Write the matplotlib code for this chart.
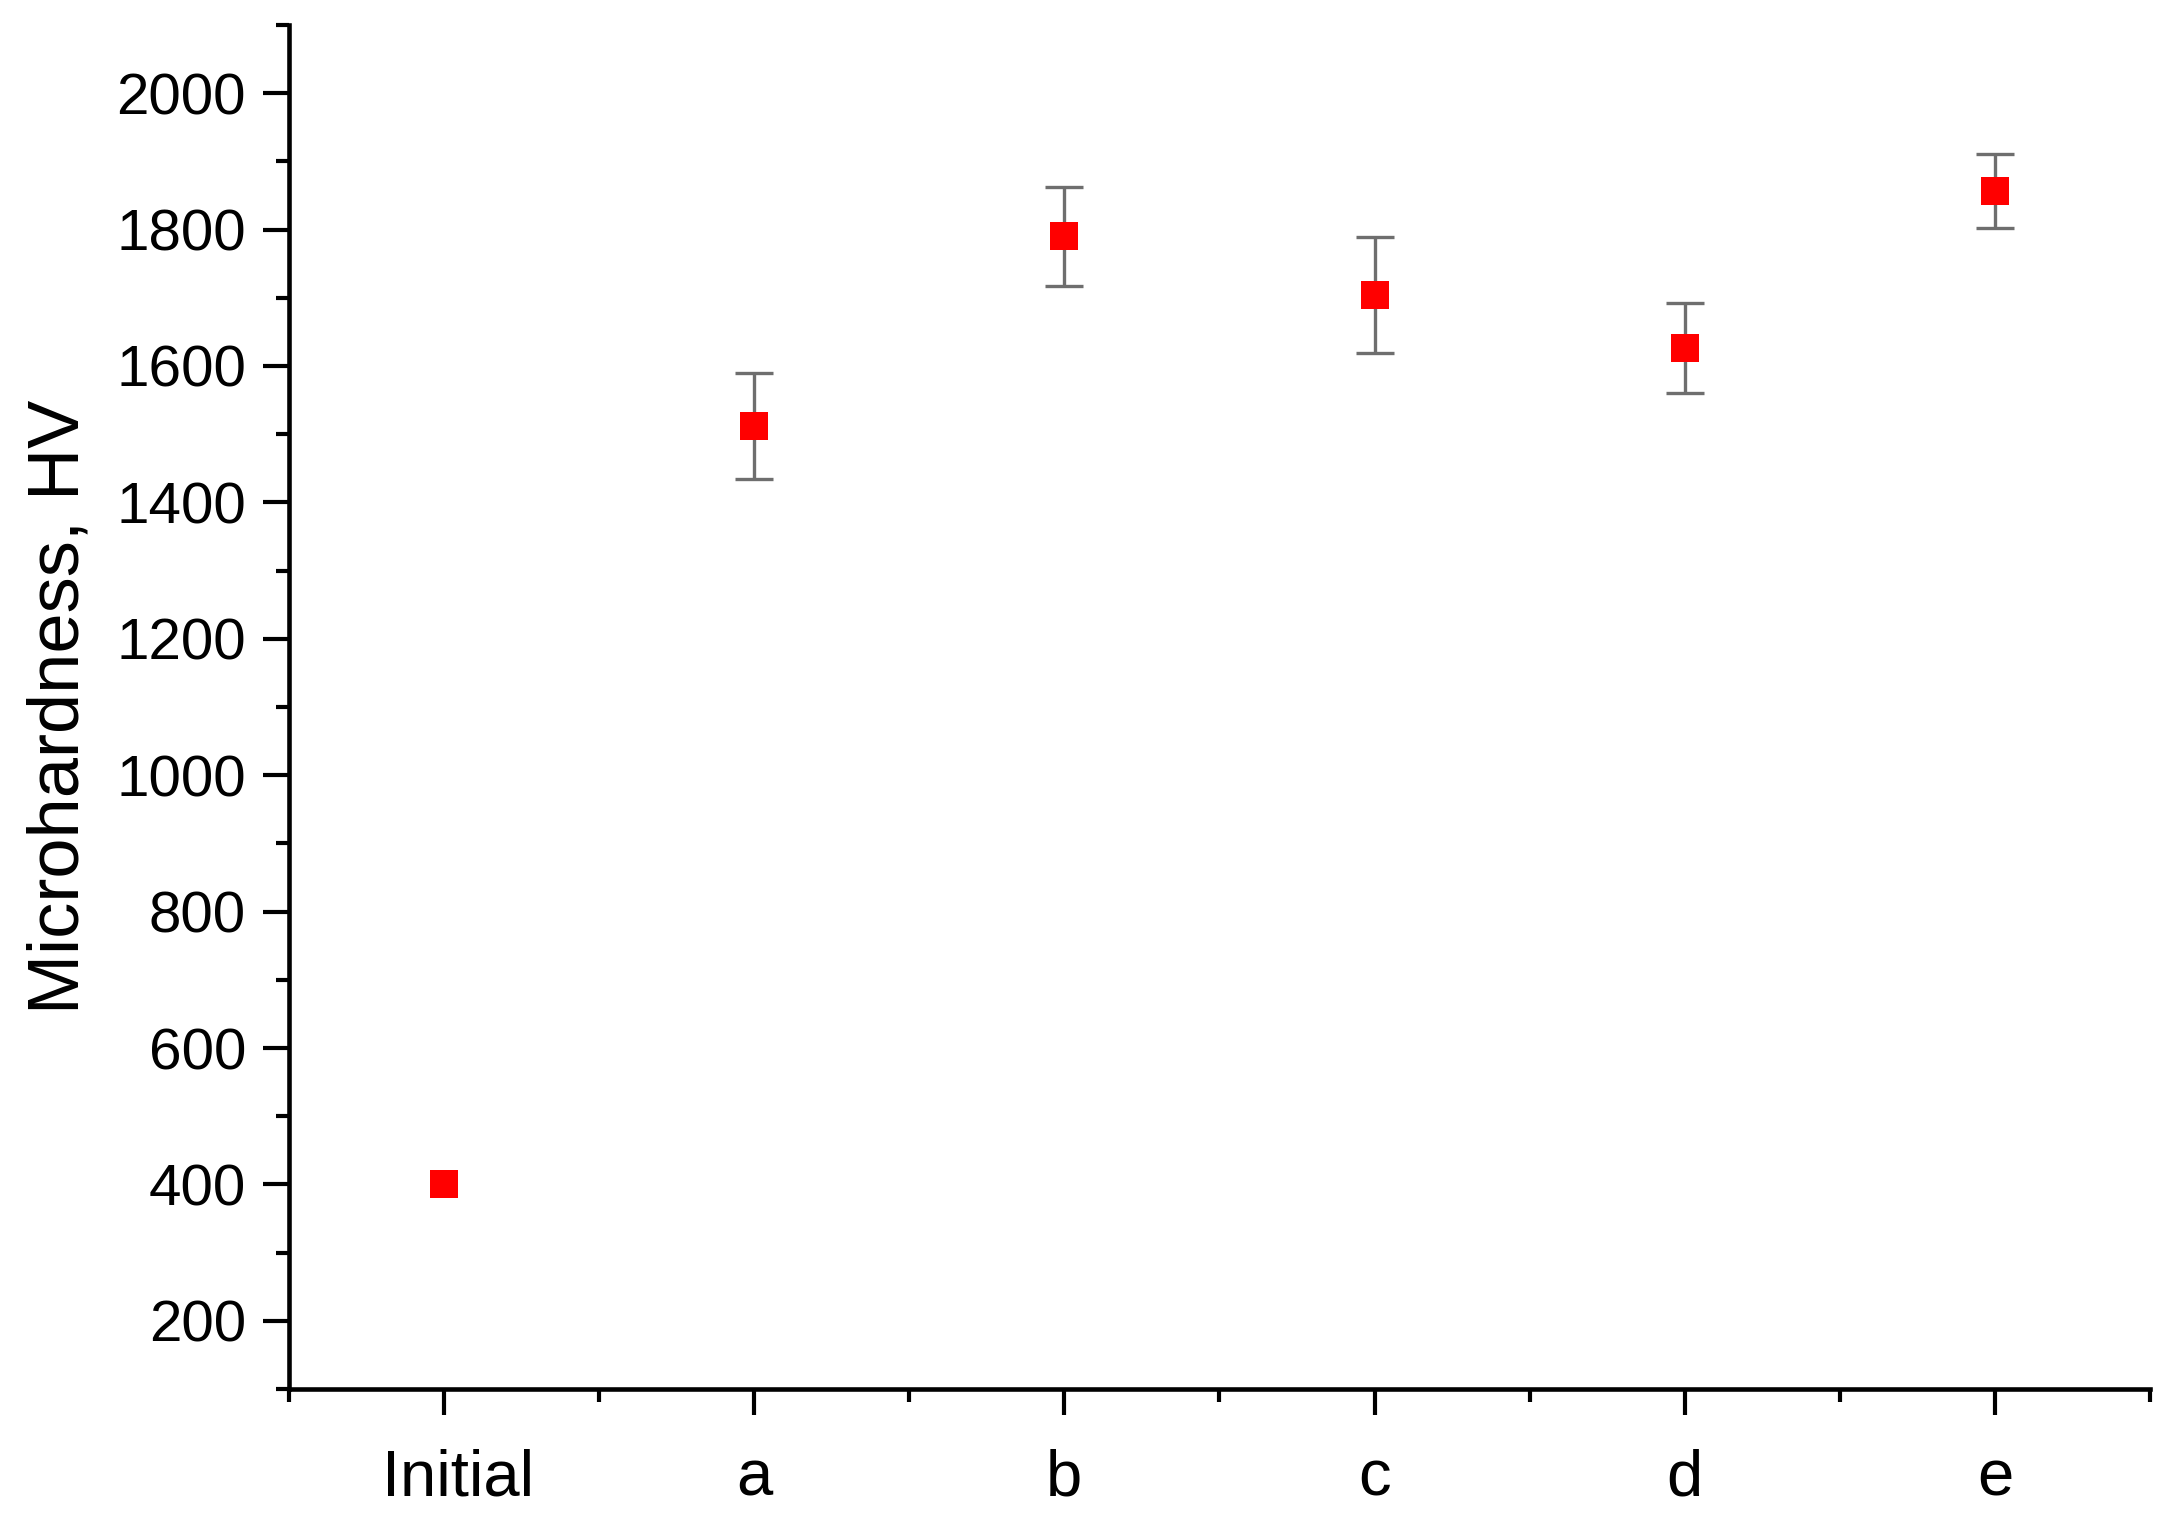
import matplotlib
matplotlib.use("Agg")
import matplotlib.pyplot as plt
import matplotlib.transforms as mtransforms
from matplotlib.ticker import MultipleLocator

samples = ["Initial", "a", "b", "c", "d", "e"]
hardness = [400, 1512, 1790, 1704, 1626, 1857]
hardness_err = [0, 78, 73, 85, 66, 54]

plt.rcParams['font.family'] = ['Liberation Sans', 'DejaVu Sans']

fig = plt.figure(figsize=(21.73, 15.4), dpi=100)
ax = fig.add_axes([0.133, 0.098, 0.8564, 0.8858])

x = list(range(len(samples)))
# only the treated samples carry error bars
with_err = [i for i in x if hardness_err[i] > 0]
ax.errorbar(with_err, [hardness[i] for i in with_err],
            yerr=[hardness_err[i] for i in with_err], fmt='none', ecolor='#6e6e6e',
            elinewidth=2.4, capsize=14, capthick=2.4, zorder=2)
ax.plot(x, hardness, 's', color='#ff0000', markersize=20, markeredgewidth=0, zorder=3)

ax.set_xlim(-0.5, 5.5)
ax.set_ylim(100, 2100)
ax.set_xticks(x)
ax.set_xticklabels(samples)
ax.xaxis.set_minor_locator(MultipleLocator(0.5))
ax.yaxis.set_major_locator(MultipleLocator(200))
ax.yaxis.set_minor_locator(MultipleLocator(100))

for side in ['top', 'right']:
    ax.spines[side].set_visible(False)
for side in ['left', 'bottom']:
    ax.spines[side].set_linewidth(3.3)

ax.tick_params(axis='both', which='major', direction='out', length=19, width=3)
ax.tick_params(axis='both', which='minor', direction='out', length=9.5, width=3)
ax.tick_params(axis='y', which='major', labelsize=42, pad=12)
ax.tick_params(axis='x', which='major', labelsize=47, pad=24)

# "Initial" sits a little right of its tick in the original
first = ax.get_xticklabels()[0]
first.set_transform(first.get_transform() +
                    mtransforms.ScaledTranslation(0.14, 0, fig.dpi_scale_trans))

ax.set_ylabel('Microhardness, HV', fontsize=52, labelpad=16)

fig.savefig('out.png', dpi=100, facecolor='white')
